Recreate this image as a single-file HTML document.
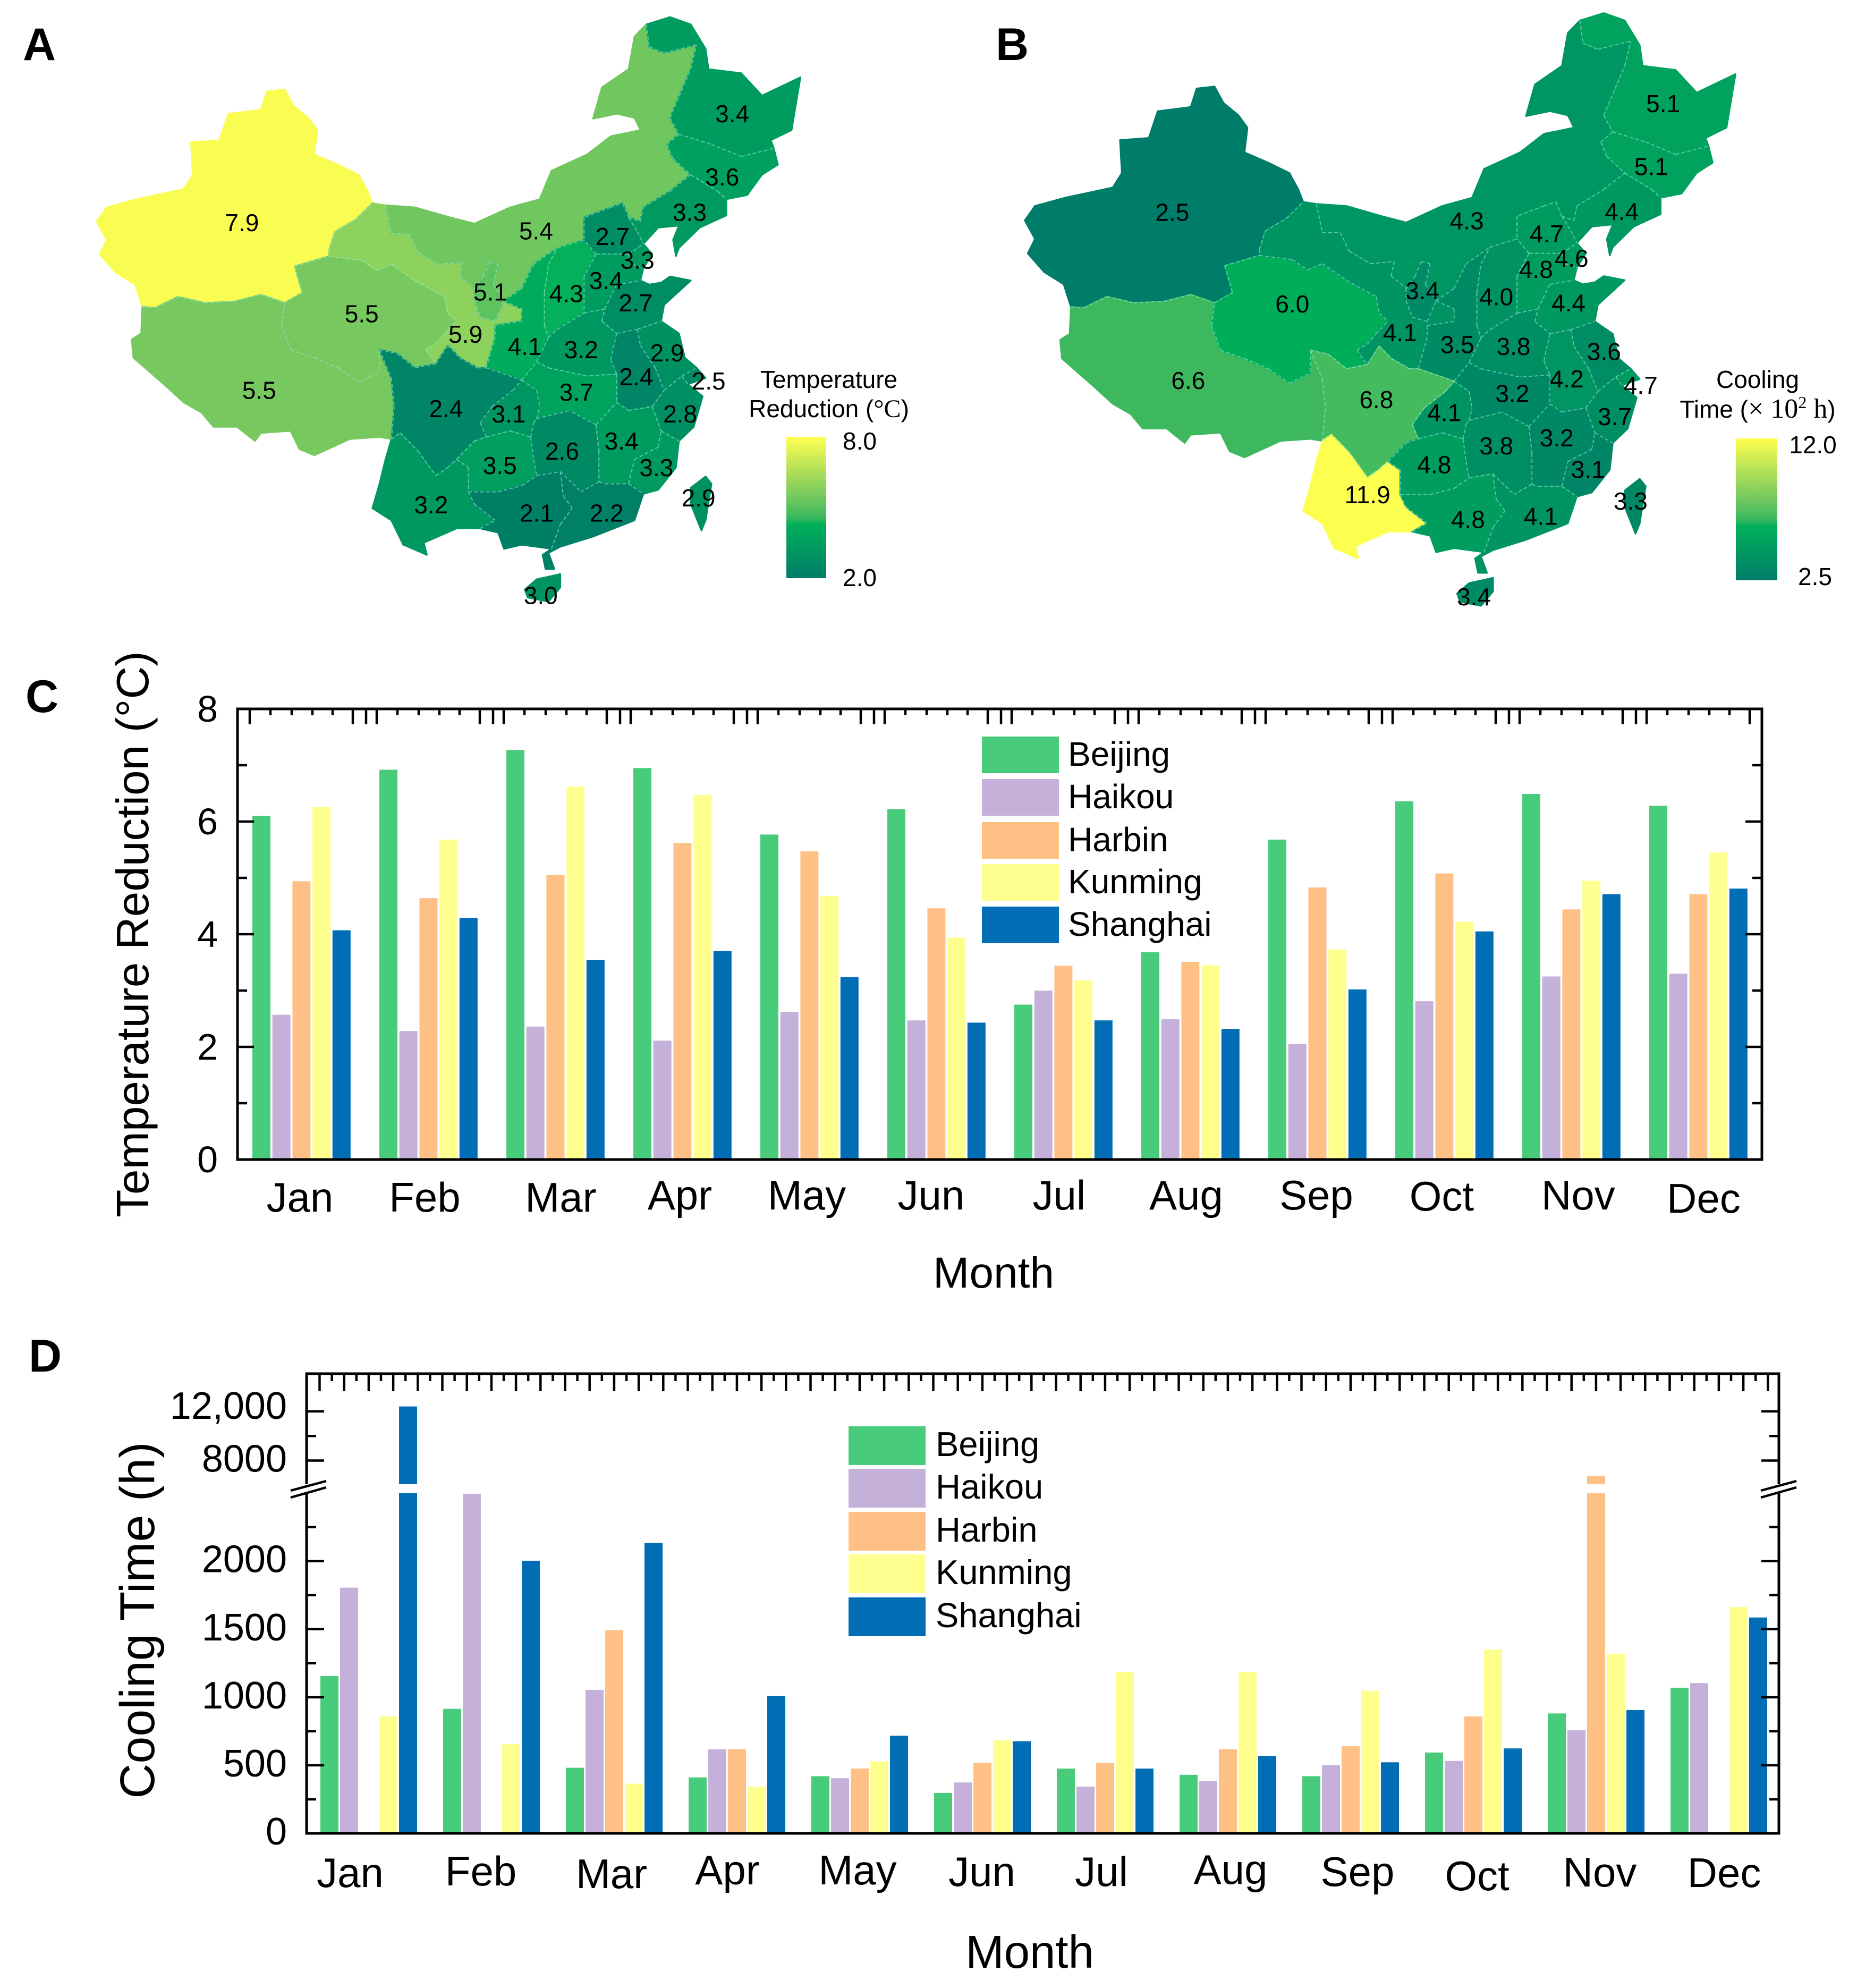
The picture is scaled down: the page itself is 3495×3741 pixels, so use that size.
<!DOCTYPE html>
<html lang="en">
<head>
<meta charset="utf-8">
<title>Temperature reduction and cooling time across China</title>
<style>
html,body{margin:0;padding:0;background:#fff}
svg{display:block}
text{font-family:"Liberation Sans",sans-serif;fill:#000}
.serif{font-family:"Liberation Serif",serif}
</style>
</head>
<body>
<svg id="fig" xmlns="http://www.w3.org/2000/svg" width="3495" height="3741" viewBox="0 0 3495 3741">
<defs>
<linearGradient id="cbar" x1="0" y1="1" x2="0" y2="0">
<stop offset="0" stop-color="#007d68"/><stop offset=".38" stop-color="#00b05a"/><stop offset=".43" stop-color="#3cb85f"/><stop offset=".58" stop-color="#76c95f"/><stop offset="1" stop-color="#ffff50"/>
</linearGradient>
</defs>
<rect width="3495" height="3741" fill="#fff"/>

<g id="mapA"></g>
<g id="mapB"></g>
<g id="chartC"></g>
<g id="chartD"></g>

<text x="43" y="113" font-size="86" font-weight="bold">A</text>
<text x="1874" y="113" font-size="86" font-weight="bold">B</text>
<text x="48" y="1340" font-size="86" font-weight="bold">C</text>
<text x="54" y="2581" font-size="86" font-weight="bold">D</text>

<rect x="1480" y="822" width="75" height="266" fill="url(#cbar)"/>
<text x="1560" y="730" font-size="46" text-anchor="middle">Temperature</text>
<text x="1560" y="785" font-size="46" text-anchor="middle">Reduction (<tspan class="serif" font-size="48">°C</tspan>)</text>
<text x="1618" y="846" font-size="46" text-anchor="middle">8.0</text>
<text x="1618" y="1103" font-size="46" text-anchor="middle">2.0</text>

<rect x="3267" y="825" width="78" height="267" fill="url(#cbar)"/>
<text x="3308" y="730" font-size="46" text-anchor="middle">Cooling</text>
<text x="3308" y="786" font-size="46" text-anchor="middle">Time (<tspan class="serif" font-size="52">× 10<tspan dy="-18" font-size="32">2</tspan><tspan dy="18"> h</tspan></tspan>)</text>
<text x="3412" y="853" font-size="46" text-anchor="middle">12.0</text>
<text x="3416" y="1101" font-size="46" text-anchor="middle">2.5</text>

<text transform="rotate(-90 279 1758)" x="279" y="1758" font-size="85.5" text-anchor="middle">Temperature Reduction (°C)</text>
<text x="1870" y="2423" font-size="82" text-anchor="middle">Month</text>
<text transform="rotate(-90 290 3049)" x="290" y="3049" font-size="91.5" text-anchor="middle">Cooling Time (h)</text>
<text x="1938" y="3703" font-size="87" text-anchor="middle">Month</text>
</svg>

<script>
// ---------- shared categories ----------
const months = ['Jan','Feb','Mar','Apr','May','Jun','Jul','Aug','Sep','Oct','Nov','Dec'];
const cities = ['Beijing','Haikou','Harbin','Kunming','Shanghai'];

// ---------- panel C values (deg C) ----------
const tempBeijing  = [6.10,6.92,7.27,6.95,5.77,6.22,2.75,3.68,5.68,6.36,6.49,6.28];
const tempHaikou   = [2.57,2.28,2.36,2.11,2.62,2.47,3.00,2.49,2.05,2.81,3.25,3.30];
const tempHarbin   = [4.94,4.64,5.05,5.62,5.47,4.46,3.44,3.51,4.83,5.08,4.44,4.71];
const tempKunming  = [6.26,5.68,6.62,6.47,4.68,3.94,3.18,3.45,3.73,4.22,4.95,5.45];
const tempShanghai = [4.07,4.29,3.54,3.70,3.24,2.43,2.47,2.32,3.02,4.05,4.71,4.81];
const tempTicks = [0,2,4,6,8];
const tempMinorTicks = [1,3,5,7];

// ---------- panel D values (hours) ----------
const coolBeijing  = [1156,915,482,411,420,297,476,430,420,594,881,1070];
const coolHaikou   = [1805,2495,1054,618,405,374,343,383,501,532,757,1104];
const coolHarbin   = [0,0,1493,618,476,516,516,618,640,859,6770,0];
const coolKunming  = [859,655,365,343,529,683,1187,1187,1048,1351,1320,1663];
const coolShanghai = [12400,2003,2133,1008,717,677,476,569,522,624,906,1586];
const coolTicks = [0,500,1000,1500,2000,8000,12000];
const coolTickLabels = ['0','500','1000','1500','2000','8000','12,000'];
const coolMinorTicks = [250,750,1250,1750,2250,10000];

// ---------- map values ----------
const provinces = ['Xinjiang','Tibet','Qinghai','Gansu','InnerMongolia','Ningxia','Shaanxi','Shanxi','Beijing','Tianjin','Hebei','Liaoning','Jilin','Heilongjiang','Shandong','Henan','Jiangsu','Anhui','Shanghai','Zhejiang','Hubei','Chongqing','Sichuan','Yunnan','Guizhou','Hunan','Jiangxi','Fujian','Guangxi','Guangdong','Hainan','Taiwan'];
const tempByProvince = [7.9,5.5,5.5,5.9,5.4,5.1,4.1,4.3,2.7,3.3,3.4,3.3,3.6,3.4,2.7,3.2,2.9,2.4,2.5,2.8,3.7,3.1,2.4,3.2,3.5,2.6,3.4,3.3,2.1,2.2,3.0,2.9];
const coolByProvince = [2.5,6.6,6.0,4.1,4.3,3.4,3.5,4.0,4.7,4.6,4.8,4.4,5.1,5.1,4.4,3.8,3.6,4.2,4.7,3.7,3.2,4.1,6.8,11.9,4.8,3.8,3.2,3.1,4.8,4.1,3.4,3.3];

// ---------- presentation constants ----------
const colors = ['#48cc7c','#c4b0d8','#ffc085','#ffff90','#006db5'];
const NS = 'http://www.w3.org/2000/svg';
const provinceShapes = {
Xinjiang:'480,220 495,260 520,290 535,320 530,380 570,405 605,430 620,470 628,500 600,540 565,570 555,615 555,630 497,655 510,720 480,745 440,725 395,742 345,745 300,730 262,757 240,755 228,700 195,670 168,625 180,590 163,545 180,510 230,490 310,465 325,430 322,350 370,345 385,280 440,270 450,225',
Tibet:'240,755 262,757 300,730 345,745 395,742 440,725 480,745 475,800 490,860 530,880 570,905 605,940 640,915 640,860 660,930 665,1000 660,1080 640,1075 590,1080 530,1120 505,1105 490,1060 440,1065 430,1085 400,1050 360,1050 340,1015 310,990 280,950 225,880 222,835 238,820',
Qinghai:'497,655 555,630 610,640 635,665 660,650 700,690 750,730 755,770 770,790 750,820 735,845 718,860 735,895 700,905 670,870 640,860 640,915 605,940 570,905 530,880 490,860 475,800 480,745 510,720',
Gansu:'628,500 650,505 660,575 690,575 705,620 740,650 780,645 775,680 800,710 800,740 810,780 835,790 850,740 880,760 880,790 835,800 835,830 820,905 805,905 775,880 755,850 735,895 718,860 735,845 750,820 770,790 755,770 750,730 700,690 660,650 635,665 610,640 555,630 555,615 565,570 600,540',
InnerMongolia:'650,505 700,510 760,535 800,550 860,510 910,490 930,420 990,380 1030,335 1080,320 1070,290 1040,280 1000,292 1015,215 1060,170 1070,90 1090,60 1095,115 1120,130 1175,110 1165,170 1130,290 1145,330 1125,355 1135,390 1165,430 1130,470 1085,510 1080,545 1060,535 1050,500 1030,510 985,535 985,590 940,610 900,650 880,710 850,740 832,700 840,650 825,645 815,680 800,710 775,680 780,645 740,650 705,620 690,575 660,575',
Ningxia:'825,645 840,650 832,700 850,740 835,790 810,780 800,740 800,710 815,680',
Shaanxi:'940,610 925,650 918,720 918,800 925,830 905,890 880,935 820,905 835,830 835,800 880,790 880,760 850,740 880,710 900,650',
Shanxi:'985,590 1005,625 985,680 985,770 940,810 925,830 918,800 918,720 925,650 940,610',
Beijing:'985,535 1030,510 1050,500 1060,535 1075,570 1085,600 1060,625 1005,625 985,590',
Tianjin:'1060,625 1085,600 1100,625 1085,660 1065,650',
Hebei:'1005,625 1060,625 1065,650 1085,660 1080,690 1040,700 1020,760 985,770 985,680',
Liaoning:'1085,510 1130,470 1165,430 1210,470 1225,490 1225,530 1180,560 1145,610 1140,630 1135,590 1145,555 1110,560 1085,600 1075,570 1060,535 1080,545',
Jilin:'1125,355 1145,330 1200,355 1250,385 1305,365 1312,405 1285,430 1260,480 1225,490 1210,470 1165,430 1135,390',
Heilongjiang:'1090,60 1130,42 1165,60 1190,120 1195,170 1250,180 1285,235 1350,190 1335,320 1300,345 1305,365 1250,385 1200,355 1145,330 1130,290 1165,170 1175,110 1120,130 1095,115',
Shandong:'1040,700 1080,690 1095,700 1115,695 1130,680 1165,690 1120,750 1115,790 1075,810 1040,820 1015,790 1020,760',
Henan:'985,770 1020,760 1015,790 1040,820 1030,885 1040,920 990,925 925,905 905,890 925,830 940,810',
Jiangsu:'1075,810 1115,790 1145,820 1155,880 1175,905 1150,925 1120,960 1105,905 1080,850',
Anhui:'1040,820 1075,810 1080,850 1105,905 1120,960 1100,1000 1060,1010 1040,990 1040,920 1030,885',
Shanghai:'1150,925 1175,905 1190,930 1160,945',
Zhejiang:'1120,960 1150,925 1160,945 1185,975 1170,1050 1145,1085 1115,1060 1100,1000',
Hubei:'880,935 905,890 925,905 990,925 1040,920 1040,990 1005,1045 960,1010 905,1030 910,1000 905,960',
Chongqing:'880,935 905,960 910,1000 905,1030 900,1040 895,1075 860,1060 820,1075 810,1040 830,1000 865,960',
Sichuan:'640,860 670,870 700,905 735,895 755,850 775,880 805,905 820,905 880,935 865,960 830,1000 810,1040 820,1075 800,1085 770,1130 755,1150 735,1170 705,1110 675,1065 660,1080 665,1000 660,930',
Yunnan:'660,1080 675,1065 705,1110 735,1170 755,1150 770,1130 790,1150 790,1210 800,1240 835,1280 810,1300 770,1300 715,1335 720,1365 680,1340 660,1280 628,1250 640,1190 650,1130',
Guizhou:'770,1130 800,1085 820,1075 860,1060 895,1075 900,1130 905,1170 880,1195 840,1210 790,1210 790,1150',
Hunan:'905,1030 960,1010 1005,1045 1010,1110 1010,1185 980,1210 945,1160 905,1170 900,1130 895,1075 900,1040',
Jiangxi:'1005,1045 1040,990 1060,1010 1100,1000 1115,1060 1110,1100 1070,1130 1060,1190 1020,1190 1010,1185 1010,1110',
Fujian:'1115,1060 1145,1085 1140,1150 1110,1205 1085,1215 1060,1190 1070,1130 1110,1100',
Guangxi:'790,1210 840,1210 880,1195 905,1170 945,1160 950,1220 965,1250 945,1290 930,1350 880,1340 850,1350 840,1310 810,1300 835,1280 800,1240',
Guangdong:'945,1160 980,1210 1010,1185 1020,1190 1060,1190 1085,1215 1070,1280 1000,1320 945,1345 925,1360 935,1400 920,1400 915,1365 930,1350 945,1290 965,1250 950,1220',
Hainan:'905,1425 945,1412 945,1445 925,1480 890,1470 885,1450',
Taiwan:'1190,1172 1200,1190 1190,1280 1183,1305 1165,1240 1165,1200'
};
const labelAnchorsA = {Xinjiang:[408,548],Tibet:[437,960],Qinghai:[610,772],Gansu:[785,822],InnerMongolia:[904,568],Ningxia:[827,718],Shaanxi:[885,852],Shanxi:[955,722],Beijing:[1033,582],Tianjin:[1075,640],Hebei:[1022,690],Liaoning:[1163,522],Jilin:[1218,435],Heilongjiang:[1235,280],Shandong:[1072,745],Henan:[980,860],Jiangsu:[1125,868],Anhui:[1073,927],Shanghai:[1195,937],Zhejiang:[1147,1018],Hubei:[972,965],Chongqing:[858,1018],Sichuan:[752,1005],Yunnan:[727,1242],Guizhou:[843,1145],Hunan:[948,1110],Jiangxi:[1048,1085],Fujian:[1107,1150],Guangxi:[905,1262],Guangdong:[1023,1262],Hainan:[912,1465],Taiwan:[1178,1225]};
const labelAnchorsB = {Xinjiang:[410,522],Tibet:[437,936],Qinghai:[613,748],Gansu:[795,818],InnerMongolia:[908,543],Ningxia:[833,715],Shaanxi:[892,848],Shanxi:[958,730],Beijing:[1043,575],Tianjin:[1085,635],Hebei:[1025,663],Liaoning:[1170,520],Jilin:[1220,410],Heilongjiang:[1240,255],Shandong:[1080,745],Henan:[987,852],Jiangsu:[1140,865],Anhui:[1077,932],Shanghai:[1202,948],Zhejiang:[1158,1025],Hubei:[985,968],Chongqing:[870,1015],Sichuan:[755,983],Yunnan:[740,1217],Guizhou:[853,1143],Hunan:[958,1097],Jiangxi:[1060,1077],Fujian:[1113,1155],Guangxi:[910,1278],Guangdong:[1033,1270],Hainan:[920,1468],Taiwan:[1185,1233]};

function mk(tag, attrs, parent){
  const el = document.createElementNS(NS, tag);
  for (const k in attrs) el.setAttribute(k, attrs[k]);
  parent.appendChild(el);
  return el;
}
function lerp(a,b,t){return a+(b-a)*t;}
function colorScale(v, lo, hi){
  const stops = [[0,0,125,104],[.38,0,176,90],[.43,60,184,95],[.58,118,201,95],[1,255,255,80]];
  const t = Math.max(0, Math.min(1, (v-lo)/(hi-lo)));
  for (let i=1;i<stops.length;i++){
    if (t<=stops[i][0]){
      const a=stops[i-1], b=stops[i], f=(t-a[0])/(b[0]-a[0]);
      return 'rgb('+Math.round(lerp(a[1],b[1],f))+','+Math.round(lerp(a[2],b[2],f))+','+Math.round(lerp(a[3],b[3],f))+')';
    }
  }
  return 'rgb(255,255,80)';
}

// ---------- maps ----------
function drawMap(rootId, values, lo, hi, toX, toY, anchors, labelX, labelY, prefix){
  const root = document.getElementById(rootId);
  const edgeCount = {};
  provinces.forEach(function(name, i){
    const raw = provinceShapes[name].split(' ').map(function(p){return p.split(',').map(Number);});
    const pts = raw.map(function(p){return toX(p[0]).toFixed(1)+','+toY(p[1]).toFixed(1);}).join(' ');
    const col = colorScale(values[i], lo, hi);
    const poly = mk('polygon',{points:pts,fill:col,stroke:col,'stroke-width':3,'stroke-linejoin':'round'},root);
    
    
    raw.forEach(function(p,j){
      const q = raw[(j+1)%raw.length];
      const a = p.join(','), b = q.join(',');
      const key = a<b ? a+'|'+b : b+'|'+a;
      edgeCount[key] = (edgeCount[key]||0)+1;
    });
  });
  let d = '';
  Object.keys(edgeCount).forEach(function(key){
    if (edgeCount[key]>1){
      const e = key.split('|').map(function(s){return s.split(',').map(Number);});
      d += 'M'+toX(e[0][0]).toFixed(1)+' '+toY(e[0][1]).toFixed(1)+'L'+toX(e[1][0]).toFixed(1)+' '+toY(e[1][1]).toFixed(1);
    }
  });
  const borders = mk('path',{d:d,fill:'none',stroke:'#8fe8d4','stroke-width':2,'stroke-dasharray':'7 4','stroke-opacity':.6},root);
  
  
  provinces.forEach(function(name, i){
    const a = anchors[name];
    const t = mk('text',{x:labelX(a[0]),y:labelY(a[1])+16,'font-size':46,'text-anchor':'middle'},root);
    t.textContent = values[i].toFixed(1);
    
    
  });
}
drawMap('mapA', tempByProvince, 2, 8,
  function(x){return x*1.116;}, function(y){return y*.765;}, labelAnchorsA,
  function(x){return x*1.116;}, function(y){return y*.765;}, 'map-a');
drawMap('mapB', coolByProvince, 2.5, 12,
  function(x){return x*1.116*1.0098+1745;}, function(y){return y*.765*1.014-8;}, labelAnchorsB,
  function(x){return 1750+x*1.113;}, function(y){return y*.765;}, 'map-b');

// ---------- panel C ----------
(function(){
  const root = document.getElementById('chartC');
  const L=447, R=3316, T=1334, B=2182;
  const series = [tempBeijing,tempHaikou,tempHarbin,tempKunming,tempShanghai];
  const monthNudge = [-3,-7,10,-5,-5,-10,-8,-8,-2,-5,13,10];
  const monthDrop = [4,4,4,0,0,0,0,0,0,2,0,6];
  function xBar(m,s){return 475+m*239+s*37.7;}
  function yVal(v){return B-v*(B-T)/8;}
  series.forEach(function(vals,s){
    vals.forEach(function(v,m){
      const r = mk('rect',{x:xBar(m,s),y:yVal(v),width:34,height:B-yVal(v),fill:colors[s]},root);
      
      
    });
  });
  const frame = mk('path',{d:'M'+L+' '+T+'H'+R+'V'+B+'H'+L+'Z',fill:'none',stroke:'#000','stroke-width':5},root);
  
  
  let d='';
  months.forEach(function(_,m){
    const g = 470+m*239;
    [[0,29],[39,12],[79,12],[118,12],[156,12],[194,29],[219,29]].forEach(function(o){
      if (g+o[0]<R-5) d+='M'+(g+o[0])+' '+T+'v'+o[1];
    });
  });
  tempTicks.forEach(function(v){ if(v>0&&v<8){ d+='M'+L+' '+yVal(v)+'h31M'+R+' '+yVal(v)+'h-31'; }});
  tempMinorTicks.forEach(function(v){ d+='M'+L+' '+yVal(v)+'h18M'+R+' '+yVal(v)+'h-18'; });
  const ticks = mk('path',{d:d,fill:'none',stroke:'#000','stroke-width':4.5},root);
  
  
  tempTicks.forEach(function(v){
    const t = mk('text',{x:410,y:yVal(v)+24,'font-size':70,'text-anchor':'end'},root);
    t.textContent = String(v);
    
    
  });
  months.forEach(function(name,m){
    const t = mk('text',{x:xBar(m,2)+17+monthNudge[m],y:2276+monthDrop[m],'font-size':78,'text-anchor':'middle'},root);
    t.textContent = name;
    
    
  });
  const swatchY = [1386,1466,1547,1626,1706];
  cities.forEach(function(name,i){
    const r = mk('rect',{x:1848,y:swatchY[i],width:145,height:69,fill:colors[i]},root);
    
    
    const t = mk('text',{x:2010,y:swatchY[i]+55,'font-size':64},root);
    t.textContent = name;
    
    
  });
})();

// ---------- panel D ----------
(function(){
  const root = document.getElementById('chartD');
  const L=577, R=3348, T=2585, B=3450, loMax=2500, hiMin=6085, yLoTop=2809.6, yHiBot=2793;
  const series = [coolBeijing,coolHaikou,coolHarbin,coolKunming,coolShanghai];
  const monthNudge = [-35,-20,-5,-18,-4,-1,-7,5,13,7,7,10];
  const monthY = [3551,3548,3553,3546,3546,3549,3549,3545,3549,3557,3550,3551];
  function xBar(m,s){return 603+m*231+s*37;}
  function yVal(v){
    if (v<=loMax) return B-v*0.25615;
    if (v>=hiMin) return 2748.5-(v-8000)*0.02315;
    return yLoTop;
  }
  series.forEach(function(vals,s){
    vals.forEach(function(v,m){
      const bar = mk('g',{fill:colors[s]},root);
      
      
      if (v<=loMax){
        mk('rect',{x:xBar(m,s),y:yVal(v),width:34,height:B-yVal(v)},bar);
      } else {
        mk('rect',{x:xBar(m,s),y:yLoTop,width:34,height:B-yLoTop},bar);
        if (v>=hiMin) mk('rect',{x:xBar(m,s),y:yVal(v),width:34,height:yHiBot-yVal(v)},bar);
      }
    });
  });
  const frame = mk('path',{d:'M'+L+' 2793V'+T+'H'+R+'V2793M'+R+' 2810V'+B+'H'+L+'V2810',fill:'none',stroke:'#000','stroke-width':5},root);
  
  
  let d='';
  for (let k=0, x=601.5; x<R-5; k++, x=601.5+k*23.1){
    d+='M'+x.toFixed(1)+' '+T+'v'+(k%2===0?33:14);
  }
  coolTicks.forEach(function(v){ if(v>0){ d+='M'+L+' '+yVal(v)+'h33M'+R+' '+yVal(v)+'h-33'; }});
  coolMinorTicks.forEach(function(v){ d+='M'+L+' '+yVal(v)+'h18M'+R+' '+yVal(v)+'h-18'; });
  const ticks = mk('path',{d:d,fill:'none',stroke:'#000','stroke-width':4.5},root);
  
  
  const brk = mk('path',{d:'M547 2805L614 2787M547 2818L614 2799M3314 2805L3381 2787M3314 2818L3381 2799',fill:'none',stroke:'#000','stroke-width':4.5},root);
  
  
  coolTicks.forEach(function(v,i){
    const t = mk('text',{x:540,y:yVal(v)+(v===12000?14:21),'font-size':72,'text-anchor':'end'},root);
    t.textContent = coolTickLabels[i];
    
    
  });
  months.forEach(function(name,m){
    const t = mk('text',{x:xBar(m,2)+17+monthNudge[m],y:monthY[m],'font-size':78,'text-anchor':'middle'},root);
    t.textContent = name;
    
    
  });
  const swatchY = [2684,2764,2845,2925,3006];
  cities.forEach(function(name,i){
    const r = mk('rect',{x:1597,y:swatchY[i],width:145,height:73,fill:colors[i]},root);
    
    
    const t = mk('text',{x:1761,y:swatchY[i]+56,'font-size':65},root);
    t.textContent = name;
    
    
  });
})();
</script>
</body>
</html>
